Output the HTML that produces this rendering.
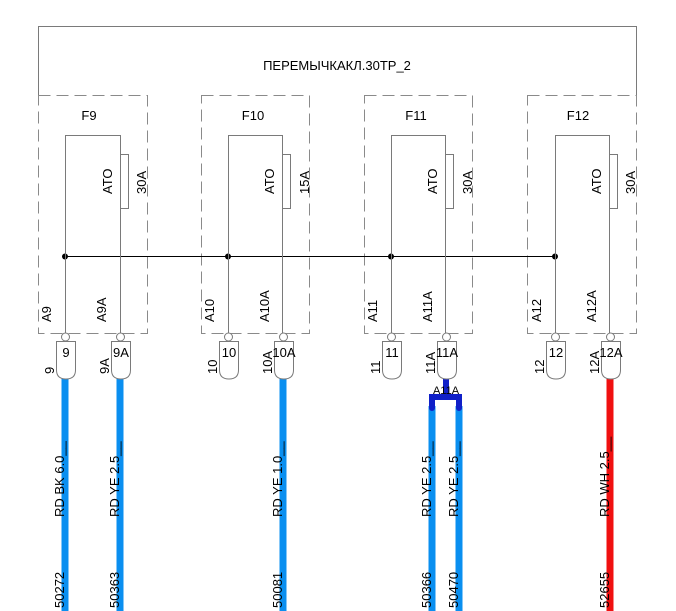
<!DOCTYPE html>
<html><head><meta charset="utf-8"><style>
html,body{margin:0;padding:0;background:#fff;width:676px;height:611px;overflow:hidden}
svg{display:block;font-family:"Liberation Sans",sans-serif}
</style></head><body>
<svg width="676" height="611" viewBox="0 0 676 611" xmlns="http://www.w3.org/2000/svg">
<g fill="none" stroke="#7a7a7a" stroke-width="1">
<polyline points="38.5,95 38.5,26.5 636.5,26.5 636.5,95"/>
</g>
<text x="337" y="70" font-size="13" text-anchor="middle" fill="#000">ПЕРЕМЫЧКАКЛ.30ТР_2</text>
<g fill="none" stroke="#8a8a8a" stroke-width="1" stroke-dasharray="12,6">
<rect x="38.5" y="95.5" width="109" height="238"/>
<rect x="201.5" y="95.5" width="108" height="238"/>
<rect x="364.5" y="95.5" width="108" height="238"/>
<rect x="527.5" y="95.5" width="109" height="238"/>
</g>
<line x1="65" y1="256.5" x2="555" y2="256.5" stroke="#000" stroke-width="1"/>
<g fill="#000"><circle cx="65" cy="256.5" r="3"/><circle cx="228" cy="256.5" r="3"/><circle cx="391" cy="256.5" r="3"/><circle cx="555" cy="256.5" r="3"/></g>

<g stroke="#0a8ff0" stroke-width="7" fill="none">
<line x1="65" y1="378" x2="65" y2="611"/>
<line x1="120" y1="378" x2="120" y2="611"/>
<line x1="283" y1="378" x2="283" y2="611"/>
<line x1="432" y1="406" x2="432" y2="611"/>
<line x1="459" y1="406" x2="459" y2="611"/>
</g>
<line x1="610" y1="378" x2="610" y2="611" stroke="#f01010" stroke-width="7"/>
<g stroke="#1020c8" stroke-width="6" fill="none" stroke-linecap="round">
<line x1="446" y1="379" x2="446" y2="397"/>
<polyline points="432,408 432,397 459,397 459,408"/>
</g>
<text x="446" y="394" font-size="11" text-anchor="middle" fill="#000">A11A</text>

<g fill="none" stroke="#7a7a7a" stroke-width="1">
<polyline points="65.5,333 65.5,135.5 120.5,135.5 120.5,333"/>
<rect x="120.5" y="154.5" width="8" height="54"/>
<polyline points="228.5,333 228.5,135.5 282.5,135.5 282.5,333"/>
<rect x="282.5" y="154.5" width="8" height="54"/>
<polyline points="391.5,333 391.5,135.5 445.5,135.5 445.5,333"/>
<rect x="445.5" y="154.5" width="8" height="54"/>
<polyline points="555.5,333 555.5,135.5 609.5,135.5 609.5,333"/>
<rect x="609.5" y="154.5" width="8" height="54"/>
</g>
<g fill="#fff" stroke="#7a7a7a" stroke-width="1">
<circle cx="65.5" cy="337" r="4"/><circle cx="120.5" cy="337" r="4"/>
<circle cx="228.5" cy="337" r="4"/><circle cx="283.5" cy="337" r="4"/>
<circle cx="391.5" cy="337" r="4"/><circle cx="446.5" cy="337" r="4"/>
<circle cx="555.5" cy="337" r="4"/><circle cx="610.5" cy="337" r="4"/>
<path d="M56.5,341.5 H75.5 V370 Q75.5,379 66,379 Q56.5,379 56.5,370 Z"/>
<path d="M111.5,341.5 H130.5 V370 Q130.5,379 121,379 Q111.5,379 111.5,370 Z"/>
<path d="M219.5,341.5 H238.5 V370 Q238.5,379 229,379 Q219.5,379 219.5,370 Z"/>
<path d="M274.5,341.5 H293.5 V370 Q293.5,379 284,379 Q274.5,379 274.5,370 Z"/>
<path d="M382.5,341.5 H401.5 V370 Q401.5,379 392,379 Q382.5,379 382.5,370 Z"/>
<path d="M437.5,341.5 H456.5 V370 Q456.5,379 447,379 Q437.5,379 437.5,370 Z"/>
<path d="M546.5,341.5 H565.5 V370 Q565.5,379 556,379 Q546.5,379 546.5,370 Z"/>
<path d="M601.5,341.5 H620.5 V370 Q620.5,379 611,379 Q601.5,379 601.5,370 Z"/>
</g>
<g font-size="13" fill="#000">
<text x="89" y="120" text-anchor="middle">F9</text>
<text x="253" y="120" text-anchor="middle">F10</text>
<text x="416" y="120" text-anchor="middle">F11</text>
<text x="578" y="120" text-anchor="middle">F12</text>
<text x="66" y="357" text-anchor="middle">9</text>
<text x="121" y="357" text-anchor="middle">9A</text>
<text x="229" y="357" text-anchor="middle">10</text>
<text x="284" y="357" text-anchor="middle">10A</text>
<text x="392" y="357" text-anchor="middle">11</text>
<text x="447" y="357" text-anchor="middle">11A</text>
<text x="556" y="357" text-anchor="middle">12</text>
<text x="611" y="357" text-anchor="middle">12A</text>
</g>
<g font-size="13" fill="#000">
<text transform="translate(112,194) rotate(-90)">ATO</text>
<text transform="translate(146,194) rotate(-90)">30A</text>
<text transform="translate(274,194) rotate(-90)">ATO</text>
<text transform="translate(309,194) rotate(-90)">15A</text>
<text transform="translate(437,194) rotate(-90)">ATO</text>
<text transform="translate(472,194) rotate(-90)">30A</text>
<text transform="translate(601,194) rotate(-90)">ATO</text>
<text transform="translate(635,194) rotate(-90)">30A</text>
<text transform="translate(51,322) rotate(-90)">A9</text>
<text transform="translate(106,322) rotate(-90)">A9A</text>
<text transform="translate(214,322) rotate(-90)">A10</text>
<text transform="translate(269,322) rotate(-90)">A10A</text>
<text transform="translate(377,322) rotate(-90)">A11</text>
<text transform="translate(432,322) rotate(-90)">A11A</text>
<text transform="translate(541,322) rotate(-90)">A12</text>
<text transform="translate(596,322) rotate(-90)">A12A</text>
<text transform="translate(54,374) rotate(-90)">9</text>
<text transform="translate(109,374) rotate(-90)">9A</text>
<text transform="translate(217,374) rotate(-90)">10</text>
<text transform="translate(272,374) rotate(-90)">10A</text>
<text transform="translate(380,374) rotate(-90)">11</text>
<text transform="translate(435,374) rotate(-90)">11A</text>
<text transform="translate(544,374) rotate(-90)">12</text>
<text transform="translate(599,374) rotate(-90)">12A</text>
<text transform="translate(64,517) rotate(-90)">RD BK 6.0__</text>
<text transform="translate(119,517) rotate(-90)">RD YE 2.5__</text>
<text transform="translate(282,517) rotate(-90)">RD YE 1.0__</text>
<text transform="translate(431,517) rotate(-90)">RD YE 2.5__</text>
<text transform="translate(458,517) rotate(-90)">RD YE 2.5__</text>
<text transform="translate(609,517) rotate(-90)">RD WH 2.5__</text>
<text transform="translate(64,608) rotate(-90)">50272</text>
<text transform="translate(119,608) rotate(-90)">50363</text>
<text transform="translate(282,608) rotate(-90)">50081</text>
<text transform="translate(431,608) rotate(-90)">50366</text>
<text transform="translate(458,608) rotate(-90)">50470</text>
<text transform="translate(609,608) rotate(-90)">52655</text>
</g>
</svg>
</body></html>
